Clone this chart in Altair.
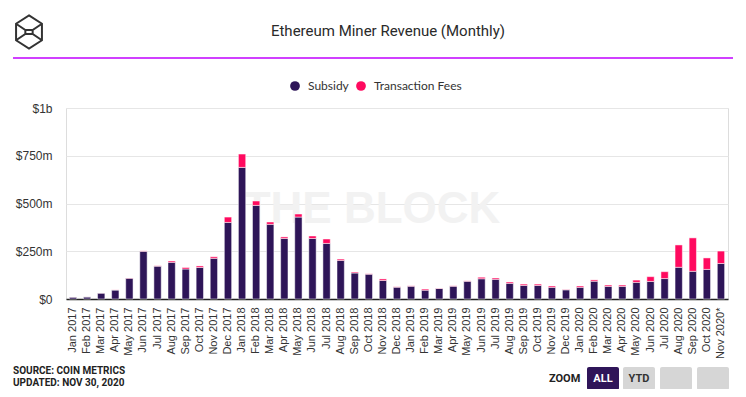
import altair as alt
import pandas as pd

months = [
    "Jan 2017", "Feb 2017", "Mar 2017", "Apr 2017", "May 2017", "Jun 2017",
    "Jul 2017", "Aug 2017", "Sep 2017", "Oct 2017", "Nov 2017", "Dec 2017",
    "Jan 2018", "Feb 2018", "Mar 2018", "Apr 2018", "May 2018", "Jun 2018",
    "Jul 2018", "Aug 2018", "Sep 2018", "Oct 2018", "Nov 2018", "Dec 2018",
    "Jan 2019", "Feb 2019", "Mar 2019", "Apr 2019", "May 2019", "Jun 2019",
    "Jul 2019", "Aug 2019", "Sep 2019", "Oct 2019", "Nov 2019", "Dec 2019",
    "Jan 2020", "Feb 2020", "Mar 2020", "Apr 2020", "May 2020", "Jun 2020",
    "Jul 2020", "Aug 2020", "Sep 2020", "Oct 2020", "Nov 2020*",
]
# values in $ millions
subsidy = [
    10, 11, 31, 47, 109, 250, 172, 192, 157, 165, 213, 401,
    689, 490, 391, 317, 429, 317, 291, 202, 136, 130, 97, 62,
    67, 46, 55, 67, 93, 106, 103, 82, 71, 71, 61, 48,
    61, 93, 66, 66, 87, 92, 107, 166, 145, 155, 186,
]
fees = [
    0.3, 0.3, 0.5, 0.7, 1.5, 2, 2, 7, 8, 8, 8, 28,
    70, 23, 12, 8, 16, 13, 23, 7, 5, 2, 8, 2,
    2, 6, 2, 2, 2, 8, 7, 7, 7, 7, 7, 2,
    7, 7, 7, 7, 12, 25, 36, 117, 175, 60, 65,
]
series = ["Subsidy", "Transaction Fees"]
colors = ["#2e1558", "#ff0a5f"]
y_ticks = [0, 250, 500, 750, 1000]

rows = []
for i, m in enumerate(months):
    rows.append({"month": m, "series": series[0], "value": subsidy[i], "ord": 0})
    rows.append({"month": m, "series": series[1], "value": fees[i], "ord": 1})
df = pd.DataFrame(rows)

# plot origin in page coords: (66, 108)
OX, OY = 66, 108
def px(x):
    return x - OX
def py(y):
    return y - OY

one = pd.DataFrame({"a": [0]})

def text_layer(t, x, y, **kw):
    return alt.Chart(pd.DataFrame({"t": [t]})).mark_text(**kw).encode(
        text="t:N", x=alt.value(px(x)), y=alt.value(py(y))
    )

watermark = text_layer("THE BLOCK", 372, 223, font="Liberation Sans", fontSize=44,
                       fontWeight="bold", color="#f2f2f2", align="center", baseline="alphabetic")

bars = alt.Chart(df).mark_bar(stroke="white", strokeWidth=0.5).encode(
    x=alt.X("month:N", sort=months,
            scale=alt.Scale(paddingInner=0.48, paddingOuter=0.24),
            axis=alt.Axis(title=None, labelAngle=-90, labelFont="Liberation Sans",
                          labelFontSize=11, labelColor="#333", ticks=False,
                          domainColor="#222", domainWidth=1.5, labelPadding=8)),
    y=alt.Y("value:Q", stack="zero",
            scale=alt.Scale(domain=[0, 1000], nice=False),
            axis=alt.Axis(values=y_ticks, title=None, domain=False, ticks=False,
                          gridColor="#e6e6e6", labelPadding=14, labelFontSize=12,
                          labelFont="Liberation Sans", labelColor="#333",
                          labelExpr="datum.value == 0 ? '$0' : (datum.value >= 1000 ? '$' + datum.value/1000 + 'b' : '$' + datum.value + 'm')")),
    color=alt.Color("series:N", scale=alt.Scale(domain=series, range=colors), legend=None),
    order=alt.Order("ord:Q", sort="ascending"),
)

logo_path = ("M0,-1 L0.78,-0.5 L0.78,0.5 L0,1 L-0.78,0.5 L-0.78,-0.5 Z "
             "M-0.78,-0.5 L-0.22,-0.12 L0.22,-0.12 L0.78,-0.5 "
             "M-0.78,0.5 L-0.22,0.12 L0.22,0.12 L0.78,0.5 "
             "M-0.22,-0.12 L-0.22,0.12 M0.22,-0.12 L0.22,0.12")
logo = alt.Chart(one).mark_point(shape=logo_path, filled=False, size=1100,
                                 stroke="#333", strokeWidth=2, opacity=1).encode(
    x=alt.value(px(29)), y=alt.value(py(32)))

title = text_layer("Ethereum Miner Revenue (Monthly)", 388, 31, font="Roboto",
                   fontSize=15, color="#2a2a2a", align="center", baseline="middle")

line = alt.Chart(one).mark_rule(color="#c000ff", strokeWidth=1.5).encode(
    x=alt.value(px(13)), x2=alt.value(px(733)), y=alt.value(py(58)))

leg_dots = [
    alt.Chart(one).mark_point(filled=True, size=95, color=colors[0], opacity=1).encode(
        x=alt.value(px(295)), y=alt.value(py(86))),
    alt.Chart(one).mark_point(filled=True, size=95, color=colors[1], opacity=1).encode(
        x=alt.value(px(361)), y=alt.value(py(86))),
]
leg_text = [
    text_layer(series[0], 308, 86, font="Lato", fontSize=12, color="#333", align="left", baseline="middle"),
    text_layer(series[1], 374, 86, font="Lato", fontSize=12, color="#333", align="left", baseline="middle"),
]

foot_font = "Liberation Sans Narrow, Roboto"
footer = [
    text_layer("SOURCE: COIN METRICS", 13, 371, font=foot_font, fontSize=10, fontWeight="bold",
               color="#222", align="left", baseline="middle"),
    text_layer("UPDATED: NOV 30, 2020", 13, 383, font=foot_font, fontSize=10, fontWeight="bold",
               color="#222", align="left", baseline="middle"),
    text_layer("ZOOM", 549, 379, font=foot_font, fontSize=11, fontWeight="bold",
               color="#222", align="left", baseline="middle"),
]
buttons = [(587, 619, "#2f1559", "ALL", "white"), (623, 655, "#d6d6d6", "YTD", "#333"),
           (660, 692, "#d6d6d6", "", "#333"), (697, 729, "#d6d6d6", "", "#333")]
for x0, x1, fill, label, tc in buttons:
    footer.append(alt.Chart(one).mark_rect(color=fill, cornerRadius=2).encode(
        x=alt.value(px(x0)), x2=alt.value(px(x1)), y=alt.value(py(367)), y2=alt.value(py(390))))
    if label:
        footer.append(text_layer(label, (x0 + x1) / 2, 379, font=foot_font, fontSize=11,
                                 fontWeight="bold", color=tc, align="center", baseline="middle"))

chart = alt.layer(watermark, bars, logo, title, line, *leg_dots, *leg_text, *footer).properties(
    width=662, height=191,
    padding={"left": 58, "top": 100, "right": 10, "bottom": 90},
    autosize=alt.AutoSizeParams(type="none"),
).configure_view(strokeWidth=0).configure(background="white")

chart.save("out.html", embed_options={"renderer": "svg", "actions": False})
